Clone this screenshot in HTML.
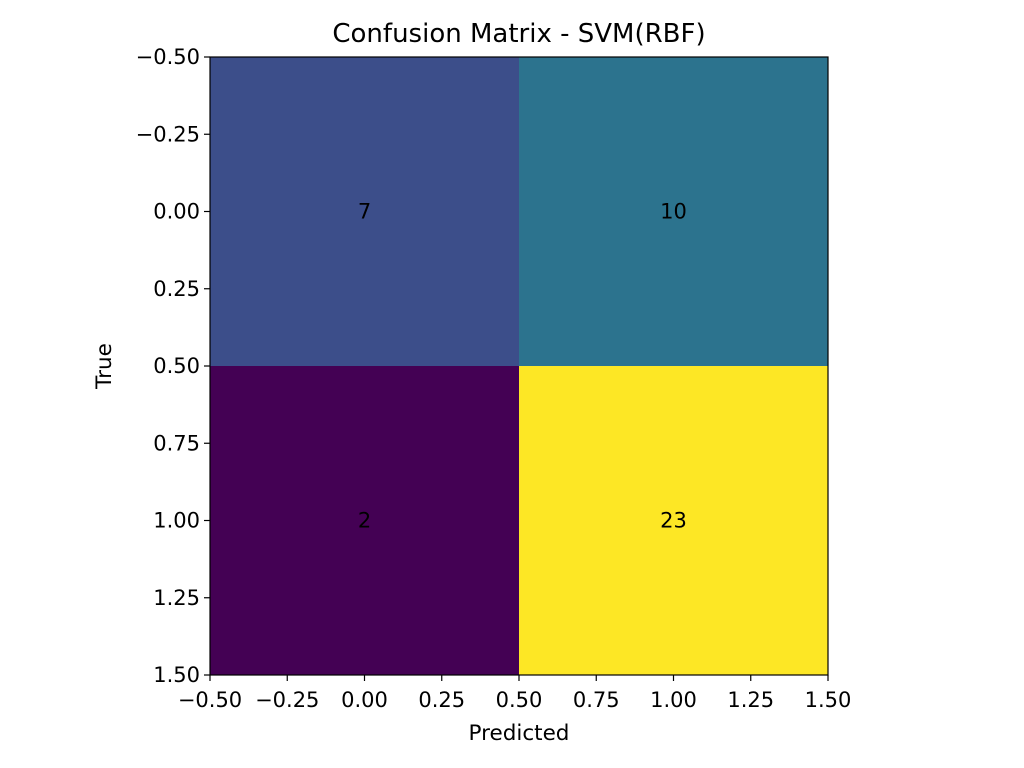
<!DOCTYPE html>
<html><head><meta charset="utf-8"><style>
html,body{margin:0;padding:0;background:#fff;}
svg{display:block;font-family:"DejaVu Sans","Liberation Sans",sans-serif;}
</style></head><body>
<svg id="chart" width="1024" height="768"></svg>
<script>
const classes = [0, 1];
const matrixValues = [[7, 10], [2, 23]];
const tickLabels = ["\u22120.50","\u22120.25","0.00","0.25","0.50","0.75","1.00","1.25","1.50"];
const tickValues = [-0.5,-0.25,0,0.25,0.5,0.75,1,1.25,1.5];

const L=210,R=828,T=57,B=675;
const xs=v=>L+(v+0.5)/2*(R-L);
const ys=v=>T+(v+0.5)/2*(B-T);
const viridis=[[68,1,84],[72,40,120],[62,74,137],[49,104,142],[38,130,142],[31,158,137],[53,183,121],[109,205,89],[180,222,44],[253,231,37]];
function cmap(t){t=Math.max(0,Math.min(1,t));const p=t*(viridis.length-1),i=Math.min(Math.floor(p),viridis.length-2),f=p-i;
const c=viridis[i].map((a,k)=>Math.round(a+(viridis[i+1][k]-a)*f));return `rgb(${c})`;}
const svg=document.getElementById('chart');
const NS='http://www.w3.org/2000/svg';
function mk(tag,attrs,parent){const e=document.createElementNS(NS,tag);for(const k in attrs)e.setAttribute(k,attrs[k]);(parent||svg).appendChild(e);return e;}
const flat=matrixValues.flat(),mn=Math.min(...flat),mx=Math.max(...flat);
matrixValues.forEach((row,r)=>row.forEach((v,c)=>{
  const cell=mk('rect',{x:xs(c-0.5),y:ys(r-0.5),width:xs(c+0.5)-xs(c-0.5),height:ys(r+0.5)-ys(r-0.5),fill:cmap((v-mn)/(mx-mn))});
  
  
  const t=mk('text',{x:xs(c),y:ys(r)+7,'text-anchor':'middle','font-size':'21',fill:'#000'});
  t.textContent=v;
  
  
}));
const frame=mk('rect',{x:L,y:T,width:R-L,height:B-T,fill:'none',stroke:'#000','stroke-width':1.2});


tickValues.forEach((v,i)=>{
  mk('line',{x1:xs(v),x2:xs(v),y1:B,y2:B+6,stroke:'#000','stroke-width':1.2});
  const tx=mk('text',{x:xs(v),y:707,'text-anchor':'middle','font-size':'21'});
  tx.textContent=tickLabels[i];
  
  
  mk('line',{x1:L-6,x2:L,y1:ys(v),y2:ys(v),stroke:'#000','stroke-width':1.2});
  const ty=mk('text',{x:L-10,y:ys(v)+7,'text-anchor':'end','font-size':'21'});
  ty.textContent=tickLabels[i];
  
  
});
const title=mk('text',{x:(L+R)/2,y:42,'text-anchor':'middle','font-size':'26'});
title.textContent='Confusion Matrix - SVM(RBF)';


const xl=mk('text',{x:(L+R)/2,y:740,'text-anchor':'middle','font-size':'21.5'});
xl.textContent='Predicted';


const yl=mk('text',{x:0,y:0,'text-anchor':'middle','font-size':'21.5',transform:`translate(111,${(T+B)/2}) rotate(-90)`});
yl.textContent='True';


</script>
</body></html>
